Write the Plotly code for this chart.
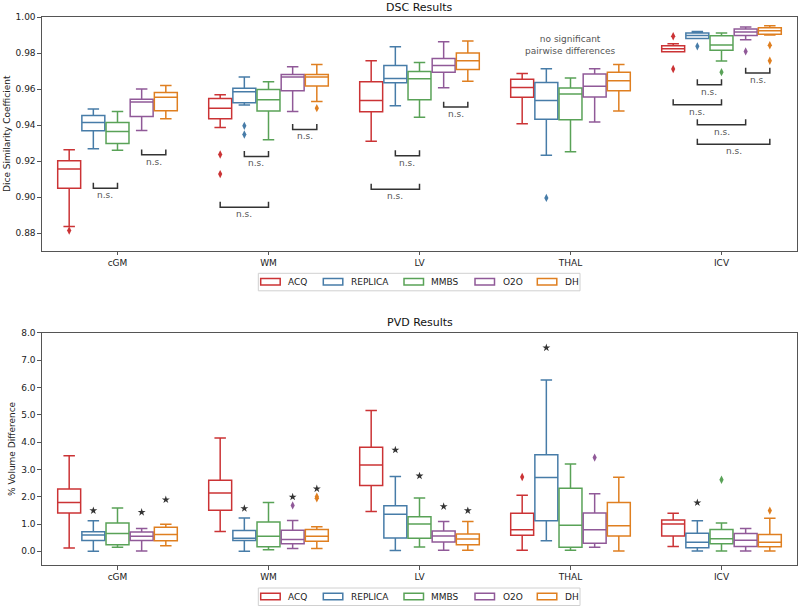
import plotly.graph_objects as go

categories = ["cGM", "WM", "LV", "THAL", "ICV"]
methods = ["ACQ", "REPLICA", "MMBS", "O2O", "DH"]
colors = {"ACQ": "#cb3335", "REPLICA": "#477ca8", "MMBS": "#59a257",
          "O2O": "#905998", "DH": "#df7f20"}
offsets = [-0.32, -0.16, 0.0, 0.16, 0.32]

# DSC box statistics, one value per category (cGM, WM, LV, THAL, ICV)
dsc_low = {"ACQ": [0.8837, 0.9387, 0.9311, 0.9407, 0.9807],
           "REPLICA": [0.9269, 0.9511, 0.9507, 0.9233, 0.9880],
           "MMBS": [0.9261, 0.9319, 0.9443, 0.9252, 0.9756],
           "O2O": [0.9370, 0.9476, 0.9607, 0.9417, 0.9874],
           "DH": [0.9435, 0.9531, 0.9643, 0.9478, 0.9900]}
dsc_q1 = {"ACQ": [0.9050, 0.9435, 0.9474, 0.9554, 0.9807],
          "REPLICA": [0.9369, 0.9524, 0.9635, 0.9433, 0.9880],
          "MMBS": [0.9298, 0.9478, 0.9541, 0.9430, 0.9815],
          "O2O": [0.9448, 0.9591, 0.9693, 0.9556, 0.9898],
          "DH": [0.9480, 0.9617, 0.9709, 0.9591, 0.9904]}
dsc_med = {"ACQ": [0.9156, 0.9494, 0.9537, 0.9609, 0.9824],
           "REPLICA": [0.9415, 0.9585, 0.9659, 0.9537, 0.9898],
           "MMBS": [0.9365, 0.9541, 0.9657, 0.9572, 0.9844],
           "O2O": [0.9528, 0.9667, 0.9731, 0.9615, 0.9917],
           "DH": [0.9554, 0.9667, 0.9757, 0.9646, 0.9924]}
dsc_q3 = {"ACQ": [0.9202, 0.9548, 0.9641, 0.9654, 0.9841],
          "REPLICA": [0.9454, 0.9604, 0.9731, 0.9637, 0.9911],
          "MMBS": [0.9415, 0.9598, 0.9698, 0.9606, 0.9896],
          "O2O": [0.9543, 0.9681, 0.9770, 0.9683, 0.9933],
          "DH": [0.9581, 0.9681, 0.9800, 0.9693, 0.9941]}
dsc_high = {"ACQ": [0.9263, 0.9569, 0.9757, 0.9687, 0.9852],
            "REPLICA": [0.9489, 0.9667, 0.9835, 0.9713, 0.9920],
            "MMBS": [0.9476, 0.9641, 0.9748, 0.9661, 0.9911],
            "O2O": [0.9600, 0.9724, 0.9863, 0.9713, 0.9944],
            "DH": [0.9620, 0.9737, 0.9867, 0.9737, 0.9952]}
dsc_outliers = {"ACQ": [[0.8815], [0.9237, 0.9128], [], [], [0.9893, 0.9711]],
                "REPLICA": [[], [0.9396, 0.9348], [], [0.8996], [0.9837]],
                "MMBS": [[], [], [], [], [0.9694]],
                "O2O": [[], [], [], [], [0.9809]],
                "DH": [[], [0.9494], [], [], [0.9843, 0.9757]]}

# PVD box statistics
pvd_low = {"ACQ": [0.12, 0.73, 1.46, 0.04, 0.18],
           "REPLICA": [0.00, 0.00, 0.03, 0.39, 0.01],
           "MMBS": [0.15, 0.06, 0.16, 0.04, 0.01],
           "O2O": [0.01, 0.10, 0.04, 0.15, 0.01],
           "DH": [0.20, 0.10, 0.04, 0.01, 0.01]}
pvd_q1 = {"ACQ": [1.40, 1.50, 2.41, 0.59, 0.56],
          "REPLICA": [0.40, 0.40, 0.49, 1.12, 0.13],
          "MMBS": [0.24, 0.17, 0.48, 0.15, 0.28],
          "O2O": [0.40, 0.28, 0.34, 0.30, 0.18],
          "DH": [0.39, 0.37, 0.24, 0.56, 0.17]}
pvd_med = {"ACQ": [1.79, 2.13, 3.16, 0.79, 1.00],
           "REPLICA": [0.60, 0.48, 1.36, 2.70, 0.33],
           "MMBS": [0.65, 0.55, 1.00, 0.95, 0.46],
           "O2O": [0.55, 0.43, 0.56, 0.79, 0.41],
           "DH": [0.62, 0.55, 0.45, 0.94, 0.33]}
pvd_q3 = {"ACQ": [2.28, 2.60, 3.81, 1.39, 1.15],
          "REPLICA": [0.72, 0.76, 1.67, 3.53, 0.66],
          "MMBS": [1.04, 1.07, 1.27, 2.31, 0.80],
          "O2O": [0.71, 0.77, 0.74, 1.40, 0.65],
          "DH": [0.88, 0.80, 0.63, 1.79, 0.62]}
pvd_high = {"ACQ": [3.50, 4.15, 5.15, 2.05, 1.39],
            "REPLICA": [1.12, 1.22, 2.74, 6.27, 1.12],
            "MMBS": [1.59, 1.79, 1.95, 3.20, 1.04],
            "O2O": [0.84, 1.13, 1.09, 2.11, 0.84],
            "DH": [0.99, 0.90, 1.09, 2.71, 1.21]}
pvd_outliers = {"ACQ": [[], [], [], [2.72], []],
                "REPLICA": [[], [], [], [], []],
                "MMBS": [[], [], [], [], [2.62]],
                "O2O": [[], [1.68], [], [3.43], []],
                "DH": [[], [1.94, 2.00], [], [], [1.49]]}
pvd_stars = {"ACQ": [None, None, None, None, None],
             "REPLICA": [1.49, 1.57, 3.71, 7.45, 1.78],
             "MMBS": [None, None, 2.76, None, None],
             "O2O": [1.43, 1.99, 1.64, None, None],
             "DH": [1.89, 2.29, 1.49, None, None]}

# DSC n.s. brackets: (category index, from method, to method, y)
dsc_brackets = [(0, 1, 2, 0.9050), (0, 3, 4, 0.9235),
                (1, 0, 2, 0.8944), (1, 1, 2, 0.9226), (1, 3, 4, 0.9376),
                (2, 0, 2, 0.9044), (2, 1, 2, 0.9230), (2, 3, 4, 0.9500),
                (4, 1, 2, 0.9624), (4, 3, 4, 0.9689), (4, 0, 2, 0.9513),
                (4, 1, 3, 0.9402), (4, 1, 4, 0.9294)]

font = "DejaVu Sans"
W, H = 800, 609
PLOT_L, PLOT_T, PLOT_W, PLOT_H = 42, 17, 755, 548
ML, MT = PLOT_L, PLOT_T
MR = W - ML - PLOT_W
MB = H - MT - PLOT_H


def px_x(p):
    return (p - PLOT_L) / PLOT_W


def px_y(p):
    return (PLOT_T + PLOT_H - p) / PLOT_H


fig = go.Figure()

panels = [
    ("x", "y", dsc_low, dsc_q1, dsc_med, dsc_q3, dsc_high, dsc_outliers),
    ("x2", "y2", pvd_low, pvd_q1, pvd_med, pvd_q3, pvd_high, pvd_outliers),
]
for xa, ya, low, q1, med, q3, high, outl in panels:
    for k, m in enumerate(methods):
        xs = [i + offsets[k] for i in range(len(categories))]
        fig.add_trace(go.Box(
            x=xs, q1=q1[m], median=med[m], q3=q3[m],
            lowerfence=low[m], upperfence=high[m],
            width=0.152, whiskerwidth=0.5, boxpoints=False,
            fillcolor="rgba(255,255,255,0)",
            line=dict(color=colors[m], width=1.5),
            name=m, showlegend=False, xaxis=xa, yaxis=ya, hoverinfo="skip"))
        ox, oy = [], []
        for i, vals in enumerate(outl[m]):
            for v in vals:
                ox.append(i + offsets[k])
                oy.append(v)
        if ox:
            fig.add_trace(go.Scatter(
                x=ox, y=oy, mode="markers", showlegend=False,
                marker=dict(symbol="diamond-tall", size=6, color=colors[m]),
                xaxis=xa, yaxis=ya, hoverinfo="skip"))

# significance stars (PVD)
sx, sy = [], []
for k, m in enumerate(methods):
    for i, v in enumerate(pvd_stars[m]):
        if v is not None:
            sx.append(i + offsets[k])
            sy.append(v)
fig.add_trace(go.Scatter(x=sx, y=sy, mode="markers", showlegend=False,
                         marker=dict(symbol="star", size=6, color="#333333"),
                         xaxis="x2", yaxis="y2", hoverinfo="skip"))

# n.s. brackets
tick_h = 0.003
for ci, a, b, yv in dsc_brackets:
    x0 = ci + offsets[a]
    x1 = ci + offsets[b]
    fig.add_shape(type="path", xref="x", yref="y",
                  path=f"M {x0},{yv + tick_h} L {x0},{yv} L {x1},{yv} L {x1},{yv + tick_h}",
                  line=dict(color="#333333", width=1.5))
    fig.add_annotation(x=(x0 + x1) / 2, y=yv, xref="x", yref="y", text="n.s.",
                       showarrow=False, yanchor="top", yshift=0,
                       font=dict(family=font, size=9, color="#555555"))

fig.add_annotation(x=3, y=0.9845, xref="x", yref="y",
                   text="no significant<br>pairwise differences", showarrow=False,
                   font=dict(family=font, size=9, color="#555555"))

# titles
fig.add_annotation(x=0.5, y=px_y(7), xref="paper", yref="paper", text="DSC Results",
                   showarrow=False, yanchor="middle",
                   font=dict(family=font, size=11, color="#111111"))
fig.add_annotation(x=0.5, y=px_y(322.5), xref="paper", yref="paper", text="PVD Results",
                   showarrow=False, yanchor="middle",
                   font=dict(family=font, size=11, color="#111111"))
fig.add_annotation(x=px_x(7), y=px_y(134), xref="paper", yref="paper",
                   text="Dice Similarity Coefficient", textangle=-90,
                   showarrow=False, xanchor="center", yanchor="middle",
                   font=dict(family=font, size=9, color="#222222"))
fig.add_annotation(x=px_x(12), y=px_y(449), xref="paper", yref="paper",
                   text="% Volume Difference", textangle=-90,
                   showarrow=False, xanchor="center", yanchor="middle",
                   font=dict(family=font, size=9, color="#222222"))

# legends (drawn as outlined patches, like the matplotlib legend)
legend_patch_x = [260.7, 323.3, 404.0, 475.0, 537.3]
for top in (273.3, 588.0):
    fig.add_shape(type="rect", xref="paper", yref="paper",
                  x0=px_x(258.3), x1=px_x(580.0), y0=px_y(top), y1=px_y(top + 17.5),
                  line=dict(color="#d0d0d0", width=1), fillcolor="white", layer="below")
    for m, px0 in zip(methods, legend_patch_x):
        fig.add_shape(type="rect", xref="paper", yref="paper",
                      x0=px_x(px0), x1=px_x(px0 + 19.5),
                      y0=px_y(top + 5.2), y1=px_y(top + 11.8),
                      line=dict(color=colors[m], width=1.5))
        fig.add_annotation(x=px_x(px0 + 25.5), y=px_y(top + 8.6), xref="paper", yref="paper",
                           text=m, showarrow=False, xanchor="left", yanchor="middle",
                           font=dict(family=font, size=9, color="#222222"))

axis_style = dict(showline=True, linecolor="#555555", linewidth=1.2, mirror=True,
                  ticks="outside", ticklen=3.5, tickcolor="#555555",
                  showgrid=False, zeroline=False,
                  tickfont=dict(family=font, size=9, color="#222222"))

fig.update_layout(
    width=W, height=H,
    margin=dict(l=ML, r=MR, t=MT, b=MB, autoexpand=False),
    paper_bgcolor="white", plot_bgcolor="white",
    boxmode="overlay", showlegend=False, hovermode=False,
    font=dict(family=font, size=9, color="#222222"),
    xaxis=dict(domain=[0, 1], anchor="y", range=[-0.5, 4.5],
               tickvals=list(range(5)), ticktext=categories, **axis_style),
    yaxis=dict(domain=[px_y(250.7), 1], anchor="x", range=[0.8703, 1.0],
               tickvals=[0.88, 0.90, 0.92, 0.94, 0.96, 0.98, 1.00],
               tickformat=".2f", **axis_style),
    xaxis2=dict(domain=[0, 1], anchor="y2", range=[-0.5, 4.5],
                tickvals=list(range(5)), ticktext=categories, **axis_style),
    yaxis2=dict(domain=[0, px_y(332.7)], anchor="x2", range=[-0.5, 8.0],
                tickvals=[0, 1, 2, 3, 4, 5, 6, 7, 8],
                tickformat=".1f", **axis_style),
)

# the browser's default body margin would shift the figure by 8px
fig.write_html("out.html", config={"displayModeBar": False},
               post_script="document.body.style.margin = '0';")
